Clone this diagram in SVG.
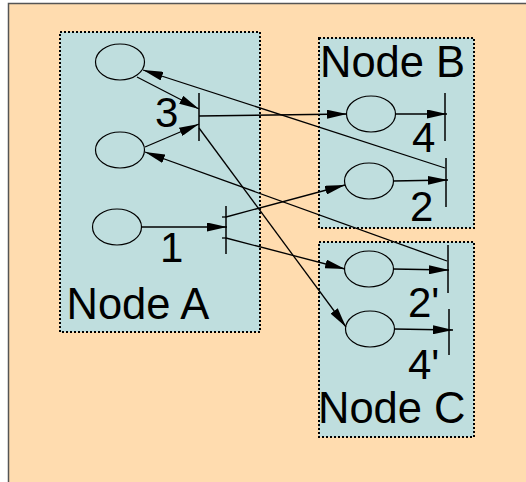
<svg xmlns="http://www.w3.org/2000/svg" width="526" height="482" viewBox="0 0 526 482">
  <defs>
    <style>
      .sheet { fill: #ffdcaf; stroke: #555555; stroke-width: 1.5; }
      .box { fill: #bfdede; stroke: #000000; stroke-width: 2; stroke-dasharray: 2 2; }
      .port { fill: none; stroke: #000000; stroke-width: 1.2; }
      .bar { stroke: #000000; stroke-width: 1.5; }
      .title { font-family: "Liberation Sans", Arial, sans-serif; font-size: 43.5px; fill: #000000; }
      .num { font-family: "Liberation Sans", Arial, sans-serif; font-size: 42px; fill: #000000; }
      .wire { fill: none; stroke: #000000; stroke-width: 1.3; marker-end: url(#head); }
      .tick { fill: none; stroke: #000000; stroke-width: 1.3; }
    </style>
    <marker id="head" markerUnits="userSpaceOnUse" markerWidth="21" markerHeight="9" refX="20" refY="4.5" orient="auto">
      <path d="M0,0 L20,4.5 L0,9 z" fill="#000000"/>
    </marker>
  </defs>

  <!-- sheet background -->
  <rect class="sheet" x="8.5" y="3.5" width="600" height="600"/>

  <g id="nodeA">
    <rect class="box" x="60" y="32" width="200" height="300"/>
    <ellipse class="port" cx="120" cy="62" rx="24.5" ry="18"/>
    <ellipse class="port" cx="120" cy="150" rx="24.5" ry="18"/>
    <ellipse class="port" cx="117" cy="227" rx="24.5" ry="18"/>
    <line class="bar" x1="199" y1="93" x2="199" y2="141"/>
    <line class="bar" x1="226" y1="206" x2="226" y2="254"/>
    <text class="num" x="155" y="127">3</text>
    <text class="num" x="160" y="262">1</text>
    <text class="title" x="66.5" y="319">Node A</text>
  </g>

  <g id="nodeB">
    <rect class="box" x="319" y="38" width="155" height="190"/>
    <text class="title" x="320" y="77">Node B</text>
    <ellipse class="port" cx="371" cy="114" rx="24.5" ry="18"/>
    <ellipse class="port" cx="369" cy="181" rx="24.5" ry="18"/>
    <line class="bar" x1="445" y1="93" x2="445" y2="141"/>
    <line class="bar" x1="446" y1="158" x2="446" y2="207"/>
    <text class="num" x="412" y="152">4</text>
    <text class="num" x="410" y="221">2</text>
  </g>

  <g id="nodeC">
    <rect class="box" x="319" y="242" width="155" height="195"/>
    <ellipse class="port" cx="369" cy="269" rx="24.5" ry="18"/>
    <ellipse class="port" cx="370" cy="329" rx="24.5" ry="18"/>
    <line class="bar" x1="448" y1="245" x2="448" y2="293"/>
    <line class="bar" x1="449" y1="309" x2="449" y2="355"/>
    <text class="num" x="408" y="317">2'</text>
    <text class="num" x="408" y="379">4'</text>
    <text class="title" x="318" y="423">Node C</text>
  </g>

  <g id="connectors">
    <line class="wire" x1="137" y1="77" x2="199" y2="109"/>
    <line class="wire" x1="145" y1="147" x2="199" y2="124"/>
    <line class="wire" x1="141" y1="227" x2="227" y2="227"/>
    <line class="wire" x1="199" y1="116" x2="347" y2="114"/>
    <line class="wire" x1="199" y1="128" x2="346" y2="327"/>
    <path class="tick" d="M222,217 H226"/>
    <path class="tick" d="M222,238 H226"/>
    <line class="wire" x1="226" y1="217" x2="345" y2="185"/>
    <line class="wire" x1="226" y1="238" x2="345" y2="269"/>
    <line class="wire" x1="395" y1="114" x2="447" y2="114"/>
    <line class="wire" x1="393" y1="181" x2="448" y2="180"/>
    <line class="wire" x1="445" y1="168" x2="143" y2="70"/>
    <line class="wire" x1="393" y1="269" x2="449" y2="270"/>
    <line class="wire" x1="394" y1="329" x2="453" y2="330"/>
    <line class="wire" x1="447" y1="261" x2="145" y2="152"/>
  </g>
</svg>
